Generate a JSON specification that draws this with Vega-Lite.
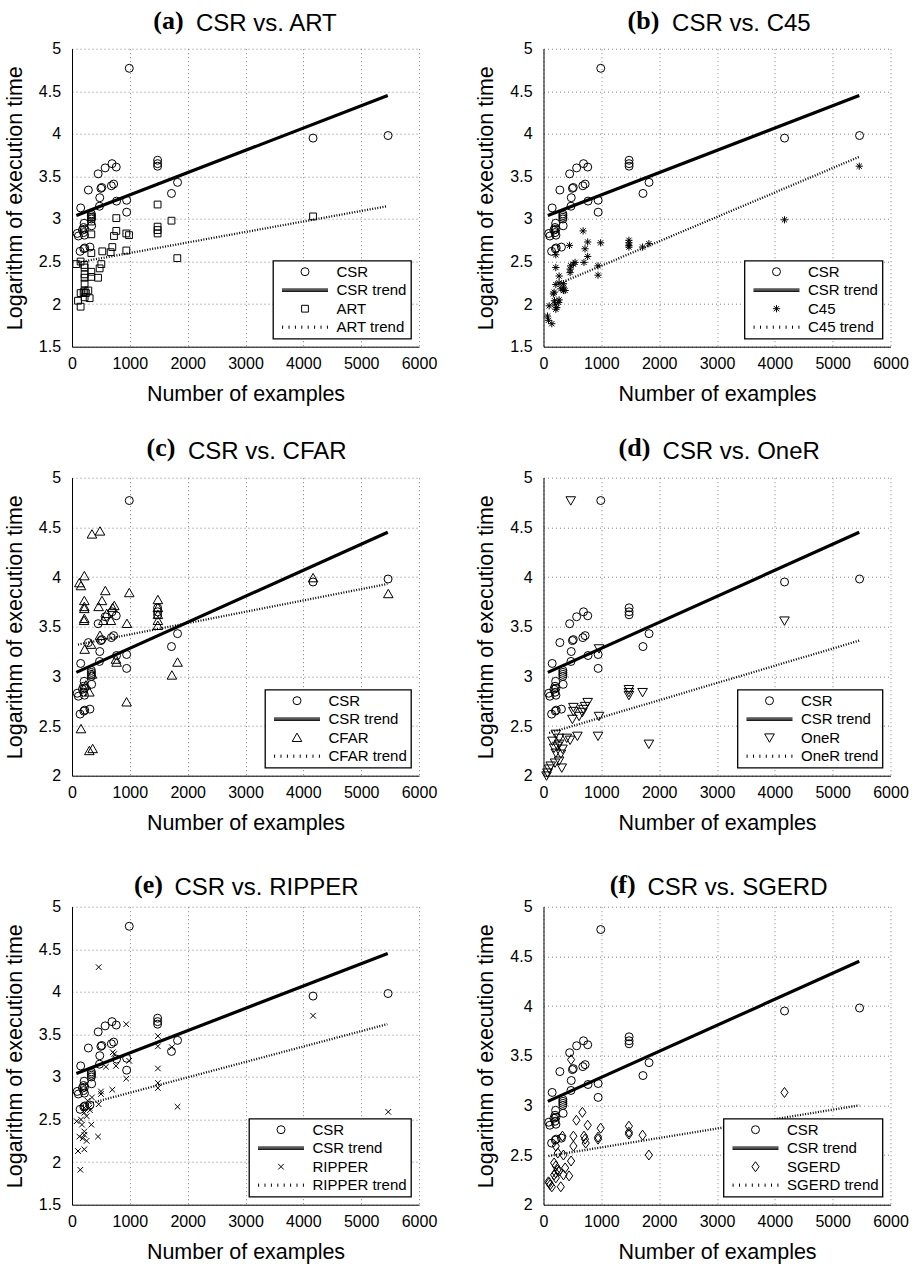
{
"$schema": "https://vega.github.io/schema/vega-lite/v6.json",
"background": "white",
"padding": {"left": 4, "top": 7.7, "right": 5, "bottom": 5},
"bounds": "flush",
"columns": 2,
"spacing": {"row": 131, "column": 124.5},
"resolve": {"scale": {"shape": "independent"}, "legend": {"shape": "independent"}},
"datasets": {
"csr": [{"n":990,"t":4.77},{"n":4168,"t":3.95},{"n":5465,"t":3.98},{"n":1480,"t":3.69},{"n":1480,"t":3.65},{"n":1480,"t":3.62},{"n":1825,"t":3.43},{"n":1720,"t":3.30},{"n":692,"t":3.65},{"n":765,"t":3.61},{"n":573,"t":3.60},{"n":452,"t":3.53},{"n":720,"t":3.41},{"n":680,"t":3.39},{"n":515,"t":3.37},{"n":500,"t":3.36},{"n":283,"t":3.34},{"n":480,"t":3.25},{"n":770,"t":3.21},{"n":945,"t":3.22},{"n":945,"t":3.08},{"n":475,"t":3.15},{"n":150,"t":3.13},{"n":335,"t":3.06},{"n":335,"t":3.04},{"n":335,"t":3.02},{"n":335,"t":3.00},{"n":340,"t":2.92},{"n":210,"t":2.95},{"n":200,"t":2.90},{"n":215,"t":2.88},{"n":200,"t":2.84},{"n":215,"t":2.81},{"n":90,"t":2.83},{"n":110,"t":2.80},{"n":140,"t":2.62},{"n":220,"t":2.66},{"n":310,"t":2.67},{"n":180,"t":2.87},{"n":205,"t":2.65}],
"art": [{"n":1480,"t":3.17},{"n":766,"t":3.01},{"n":1720,"t":2.98},{"n":4168,"t":3.03},{"n":1480,"t":2.91},{"n":1480,"t":2.87},{"n":1480,"t":2.83},{"n":766,"t":2.86},{"n":726,"t":2.80},{"n":939,"t":2.83},{"n":986,"t":2.81},{"n":334,"t":3.02},{"n":334,"t":2.97},{"n":334,"t":2.82},{"n":697,"t":2.67},{"n":524,"t":2.62},{"n":334,"t":2.60},{"n":939,"t":2.63},{"n":668,"t":2.61},{"n":1821,"t":2.54},{"n":149,"t":2.50},{"n":74,"t":2.47},{"n":507,"t":2.47},{"n":478,"t":2.42},{"n":218,"t":2.43},{"n":218,"t":2.35},{"n":334,"t":2.38},{"n":334,"t":2.32},{"n":450,"t":2.31},{"n":218,"t":2.31},{"n":218,"t":2.24},{"n":218,"t":2.16},{"n":240,"t":2.13},{"n":149,"t":2.13},{"n":305,"t":2.07},{"n":218,"t":2.08},{"n":104,"t":2.04},{"n":149,"t":1.97},{"n":282,"t":2.16},{"n":201,"t":2.14},{"n":213,"t":2.46}],
"c45": [{"n":5460,"t":3.62},{"n":4167,"t":2.99},{"n":685,"t":2.86},{"n":764,"t":2.73},{"n":988,"t":2.72},{"n":1477,"t":2.75},{"n":1477,"t":2.72},{"n":1477,"t":2.69},{"n":1477,"t":2.67},{"n":1713,"t":2.67},{"n":1822,"t":2.71},{"n":450,"t":2.69},{"n":718,"t":2.65},{"n":764,"t":2.56},{"n":700,"t":2.49},{"n":546,"t":2.49},{"n":517,"t":2.47},{"n":471,"t":2.45},{"n":460,"t":2.41},{"n":460,"t":2.37},{"n":943,"t":2.45},{"n":943,"t":2.34},{"n":213,"t":2.58},{"n":213,"t":2.43},{"n":270,"t":2.33},{"n":270,"t":2.25},{"n":213,"t":2.23},{"n":184,"t":2.14},{"n":345,"t":2.24},{"n":345,"t":2.20},{"n":345,"t":2.16},{"n":300,"t":2.18},{"n":374,"t":2.16},{"n":170,"t":2.12},{"n":190,"t":2.04},{"n":200,"t":2.00},{"n":213,"t":1.94},{"n":270,"t":2.05},{"n":264,"t":2.02},{"n":98,"t":1.98},{"n":69,"t":1.86},{"n":144,"t":1.77},{"n":86,"t":1.81},{"n":230,"t":1.96}],
"cfar": [{"n":345,"t":4.43},{"n":484,"t":4.46},{"n":213,"t":4.01},{"n":127,"t":3.94},{"n":155,"t":3.91},{"n":213,"t":3.76},{"n":213,"t":3.70},{"n":213,"t":3.68},{"n":213,"t":3.58},{"n":208,"t":3.56},{"n":576,"t":3.86},{"n":518,"t":3.76},{"n":460,"t":3.70},{"n":731,"t":3.71},{"n":702,"t":3.69},{"n":673,"t":3.56},{"n":990,"t":3.84},{"n":950,"t":3.53},{"n":1485,"t":3.77},{"n":1485,"t":3.69},{"n":1485,"t":3.62},{"n":1485,"t":3.56},{"n":1485,"t":3.51},{"n":484,"t":3.41},{"n":328,"t":3.32},{"n":219,"t":3.27},{"n":760,"t":3.17},{"n":771,"t":3.14},{"n":1825,"t":3.14},{"n":1727,"t":3.01},{"n":944,"t":2.74},{"n":155,"t":2.47},{"n":300,"t":2.25},{"n":357,"t":2.27},{"n":4168,"t":3.99},{"n":5469,"t":3.83},{"n":300,"t":2.84},{"n":240,"t":2.91},{"n":600,"t":3.63},{"n":541,"t":3.56},{"n":345,"t":3.02}],
"oner": [{"n":471,"t":4.77},{"n":4167,"t":3.56},{"n":960,"t":3.28},{"n":1477,"t":2.87},{"n":1477,"t":2.84},{"n":1477,"t":2.81},{"n":1713,"t":2.84},{"n":1822,"t":2.32},{"n":764,"t":2.74},{"n":718,"t":2.70},{"n":690,"t":2.67},{"n":672,"t":2.64},{"n":517,"t":2.69},{"n":517,"t":2.65},{"n":500,"t":2.57},{"n":615,"t":2.60},{"n":960,"t":2.60},{"n":943,"t":2.40},{"n":586,"t":2.40},{"n":460,"t":2.36},{"n":402,"t":2.38},{"n":270,"t":2.38},{"n":270,"t":2.32},{"n":328,"t":2.27},{"n":155,"t":2.35},{"n":184,"t":2.28},{"n":213,"t":2.23},{"n":213,"t":2.42},{"n":270,"t":2.15},{"n":200,"t":2.13},{"n":126,"t":2.10},{"n":98,"t":2.07},{"n":69,"t":2.03},{"n":52,"t":2.00},{"n":316,"t":2.08},{"n":240,"t":2.30},{"n":300,"t":2.22}],
"ripper": [{"n":461,"t":4.29},{"n":4168,"t":3.72},{"n":5469,"t":2.59},{"n":938,"t":3.62},{"n":1485,"t":3.48},{"n":1485,"t":3.36},{"n":1485,"t":3.10},{"n":1485,"t":2.93},{"n":1485,"t":2.87},{"n":1825,"t":2.65},{"n":1727,"t":3.35},{"n":731,"t":3.27},{"n":760,"t":3.13},{"n":587,"t":3.12},{"n":705,"t":3.29},{"n":990,"t":3.19},{"n":938,"t":2.98},{"n":697,"t":2.85},{"n":501,"t":2.83},{"n":501,"t":2.80},{"n":461,"t":2.68},{"n":345,"t":2.76},{"n":300,"t":2.64},{"n":310,"t":2.61},{"n":334,"t":2.44},{"n":450,"t":2.30},{"n":213,"t":2.64},{"n":213,"t":2.58},{"n":253,"t":2.54},{"n":155,"t":2.50},{"n":172,"t":2.44},{"n":213,"t":2.36},{"n":213,"t":2.32},{"n":127,"t":2.30},{"n":184,"t":2.28},{"n":253,"t":2.25},{"n":104,"t":2.13},{"n":213,"t":2.15},{"n":144,"t":1.91},{"n":81,"t":2.48},{"n":270,"t":2.72}],
"sgerd": [{"n":4167,"t":3.13},{"n":477,"t":3.46},{"n":672,"t":2.93},{"n":569,"t":2.85},{"n":764,"t":2.80},{"n":988,"t":2.77},{"n":1477,"t":2.79},{"n":1477,"t":2.73},{"n":1477,"t":2.71},{"n":1713,"t":2.70},{"n":1822,"t":2.50},{"n":517,"t":2.69},{"n":701,"t":2.69},{"n":718,"t":2.66},{"n":943,"t":2.68},{"n":943,"t":2.66},{"n":730,"t":2.62},{"n":517,"t":2.59},{"n":328,"t":2.69},{"n":213,"t":2.59},{"n":247,"t":2.52},{"n":345,"t":2.50},{"n":477,"t":2.44},{"n":184,"t":2.42},{"n":213,"t":2.39},{"n":241,"t":2.35},{"n":213,"t":2.32},{"n":184,"t":2.30},{"n":270,"t":2.34},{"n":374,"t":2.37},{"n":345,"t":2.30},{"n":443,"t":2.29},{"n":299,"t":2.18},{"n":98,"t":2.22},{"n":144,"t":2.18},{"n":86,"t":2.23},{"n":115,"t":2.20},{"n":213,"t":2.27}],
"t_csr": [{"n":75,"t":3.04},{"n":5460,"t":4.45}],
"t_art": [{"n":104,"t":2.49},{"n":5452,"t":3.15}],
"t_c45": [{"n":300,"t":2.25},{"n":5460,"t":3.73}],
"t_cfar": [{"n":104,"t":3.32},{"n":5452,"t":3.93}],
"t_oner": [{"n":98,"t":2.43},{"n":5460,"t":3.36}],
"t_ripper": [{"n":144,"t":2.66},{"n":5452,"t":3.62}],
"t_sgerd": [{"n":86,"t":2.49},{"n":5460,"t":3.00}]
},
"config": {
"view": {"stroke": null},
"font": "Liberation Sans",
"axis": {"labelFont": "Liberation Sans", "labelFontSize": 16, "labelColor": "black", "titleFont": "Liberation Sans", "titleFontSize": 21.5, "titleFontWeight": "normal", "titleColor": "black", "domainColor": "black", "domainWidth": 1, "ticks": false, "tickSize": 0, "gridColor": "#808080", "gridDash": [1, 3], "gridWidth": 1, "gridOpacity": 1, "labelFlush": false},
"axisX": {"labelPadding": 9, "titlePadding": 12.3},
"axisY": {"labelPadding": 11.4, "titlePadding": 12.3},
"legend": {"labelFont": "Liberation Sans", "labelFontSize": 15, "labelColor": "black", "fillColor": "white", "strokeColor": "black", "strokeWidth": 1.3, "padding": 3.5, "cornerRadius": 0, "symbolSize": 64, "symbolStrokeColor": "black", "symbolStrokeWidth": 1, "symbolFillColor": "transparent", "symbolOffset": 21, "labelOffset": 24, "rowPadding": 2.5, "offset": 8, "orient": "bottom-right"},
"title": {"font": "Liberation Serif", "fontSize": 26, "fontWeight": "bold", "color": "black", "anchor": "middle", "frame": "group", "offset": 0}
},
"concat": [
{"title": {"text": "(a)", "dx": -77, "dy": 26}, "width": 347, "height": 298,
 "encoding": {
  "x": {"field": "n", "type": "quantitative", "scale": {"domain": [0, 6000]}, "axis": {"orient": "bottom", "title": "Number of examples", "values": [0,1000,2000,3000,4000,5000,6000], "format": "d", "grid": true}},
  "y": {"field": "t", "type": "quantitative", "scale": {"domain": [1.5, 5]}, "axis": {"orient": "left", "title": "Logarithm of execution time", "values": [1.5,2,2.5,3,3.5,4,4.5,5], "format": "~g", "grid": true}}},
 "layer": [
{"data": {"name": "csr"}, "mark": {"type": "point", "filled": false, "size": 64, "strokeWidth": 1, "color": "black", "opacity": 1},
 "encoding": {"x": {"field": "n", "type": "quantitative", "scale": {"domain": [0, 6000]}, "axis": {"orient": "top", "title": "CSR vs. ART", "labels": false, "ticks": false, "domain": false, "grid": false, "titleFontSize": 24, "titleX": 193.8, "titleY": -17.7, "titleBaseline": "alphabetic", "titleAlign": "center"}},
  "shape": {"datum": "CSR", "scale": {"domain": ["CSR", "CSR trend", "ART", "ART trend"], "range": ["circle", "M-5.75,-0.3H5.75M-5.75,0H5.75M-5.75,0.3H5.75", "M-0.85,-0.85H0.85V0.85H-0.85Z", "M-5.6,-0.4V0.4M-4,-0.4V0.4M-2.4,-0.4V0.4M-0.8,-0.4V0.4M0.8,-0.4V0.4M2.4,-0.4V0.4M4,-0.4V0.4M5.6,-0.4V0.4"]}, "legend": {"title": null}}}},
{"data": {"name": "art"}, "mark": {"type": "point", "filled": false, "size": 64, "strokeWidth": 1, "color": "black", "opacity": 1},
 "encoding": {"shape": {"datum": "ART"}}},
{"data": {"name": "t_csr"}, "mark": {"type": "line", "color": "black", "strokeWidth": 3.2},
 "encoding": {"x": {"field": "n", "type": "quantitative", "scale": {"domain": [0, 6000]}, "axis": {"orient": "bottom", "title": null, "labels": false, "ticks": false, "domain": false, "grid": false}}}},
{"data": {"name": "t_art"}, "mark": {"type": "line", "color": "black", "strokeWidth": 2.3, "strokeDash": [1, 1.6]},
 "encoding": {"x": {"field": "n", "type": "quantitative", "scale": {"domain": [0, 6000]}, "axis": {"orient": "bottom", "title": null, "labels": false, "ticks": false, "domain": false, "grid": false}}}}
]},
{"title": {"text": "(b)", "dx": -73.6, "dy": 26}, "width": 347, "height": 298,
 "encoding": {
  "x": {"field": "n", "type": "quantitative", "scale": {"domain": [0, 6000]}, "axis": {"orient": "bottom", "title": "Number of examples", "values": [0,1000,2000,3000,4000,5000,6000], "format": "d", "grid": true}},
  "y": {"field": "t", "type": "quantitative", "scale": {"domain": [1.5, 5]}, "axis": {"orient": "left", "title": "Logarithm of execution time", "values": [1.5,2,2.5,3,3.5,4,4.5,5], "format": "~g", "grid": true}}},
 "layer": [
{"data": {"name": "csr"}, "mark": {"type": "point", "filled": false, "size": 64, "strokeWidth": 1, "color": "black", "opacity": 1},
 "encoding": {"x": {"field": "n", "type": "quantitative", "scale": {"domain": [0, 6000]}, "axis": {"orient": "top", "title": "CSR vs. C45", "labels": false, "ticks": false, "domain": false, "grid": false, "titleFontSize": 24, "titleX": 197.4, "titleY": -17.7, "titleBaseline": "alphabetic", "titleAlign": "center"}},
  "shape": {"datum": "CSR", "scale": {"domain": ["CSR", "CSR trend", "C45", "C45 trend"], "range": ["circle", "M-5.75,-0.3H5.75M-5.75,0H5.75M-5.75,0.3H5.75", "M-0.9,0H0.9M0,-0.9V0.9M-0.65,-0.65L0.65,0.65M-0.65,0.65L0.65,-0.65", "M-5.6,-0.4V0.4M-4,-0.4V0.4M-2.4,-0.4V0.4M-0.8,-0.4V0.4M0.8,-0.4V0.4M2.4,-0.4V0.4M4,-0.4V0.4M5.6,-0.4V0.4"]}, "legend": {"title": null}}}},
{"data": {"name": "c45"}, "mark": {"type": "point", "filled": false, "size": 64, "strokeWidth": 1, "color": "black", "opacity": 1},
 "encoding": {"shape": {"datum": "C45"}}},
{"data": {"name": "t_csr"}, "mark": {"type": "line", "color": "black", "strokeWidth": 3.2},
 "encoding": {"x": {"field": "n", "type": "quantitative", "scale": {"domain": [0, 6000]}, "axis": {"orient": "bottom", "title": null, "labels": false, "ticks": false, "domain": false, "grid": false}}}},
{"data": {"name": "t_c45"}, "mark": {"type": "line", "color": "black", "strokeWidth": 2.3, "strokeDash": [1, 1.6]},
 "encoding": {"x": {"field": "n", "type": "quantitative", "scale": {"domain": [0, 6000]}, "axis": {"orient": "bottom", "title": null, "labels": false, "ticks": false, "domain": false, "grid": false}}}}
]},
{"title": {"text": "(c)", "dx": -84.6, "dy": 26}, "width": 347, "height": 298,
 "encoding": {
  "x": {"field": "n", "type": "quantitative", "scale": {"domain": [0, 6000]}, "axis": {"orient": "bottom", "title": "Number of examples", "values": [0,1000,2000,3000,4000,5000,6000], "format": "d", "grid": true}},
  "y": {"field": "t", "type": "quantitative", "scale": {"domain": [2, 5]}, "axis": {"orient": "left", "title": "Logarithm of execution time", "values": [2,2.5,3,3.5,4,4.5,5], "format": "~g", "grid": true}}},
 "layer": [
{"data": {"name": "csr"}, "mark": {"type": "point", "filled": false, "size": 64, "strokeWidth": 1, "color": "black", "opacity": 1},
 "encoding": {"x": {"field": "n", "type": "quantitative", "scale": {"domain": [0, 6000]}, "axis": {"orient": "top", "title": "CSR vs. CFAR", "labels": false, "ticks": false, "domain": false, "grid": false, "titleFontSize": 24, "titleX": 194.8, "titleY": -19.4, "titleBaseline": "alphabetic", "titleAlign": "center"}},
  "shape": {"datum": "CSR", "scale": {"domain": ["CSR", "CSR trend", "CFAR", "CFAR trend"], "range": ["circle", "M-5.75,-0.3H5.75M-5.75,0H5.75M-5.75,0.3H5.75", "M0,-1.15L1.2,0.95L-1.2,0.95Z", "M-5.6,-0.4V0.4M-4,-0.4V0.4M-2.4,-0.4V0.4M-0.8,-0.4V0.4M0.8,-0.4V0.4M2.4,-0.4V0.4M4,-0.4V0.4M5.6,-0.4V0.4"]}, "legend": {"title": null}}}},
{"data": {"name": "cfar"}, "mark": {"type": "point", "filled": false, "size": 64, "strokeWidth": 1, "color": "black", "opacity": 1},
 "encoding": {"shape": {"datum": "CFAR"}}},
{"data": {"name": "t_csr"}, "mark": {"type": "line", "color": "black", "strokeWidth": 3.2},
 "encoding": {"x": {"field": "n", "type": "quantitative", "scale": {"domain": [0, 6000]}, "axis": {"orient": "bottom", "title": null, "labels": false, "ticks": false, "domain": false, "grid": false}}}},
{"data": {"name": "t_cfar"}, "mark": {"type": "line", "color": "black", "strokeWidth": 2.3, "strokeDash": [1, 1.6]},
 "encoding": {"x": {"field": "n", "type": "quantitative", "scale": {"domain": [0, 6000]}, "axis": {"orient": "bottom", "title": null, "labels": false, "ticks": false, "domain": false, "grid": false}}}}
]},
{"title": {"text": "(d)", "dx": -82.6, "dy": 26}, "width": 347, "height": 298,
 "encoding": {
  "x": {"field": "n", "type": "quantitative", "scale": {"domain": [0, 6000]}, "axis": {"orient": "bottom", "title": "Number of examples", "values": [0,1000,2000,3000,4000,5000,6000], "format": "d", "grid": true}},
  "y": {"field": "t", "type": "quantitative", "scale": {"domain": [2, 5]}, "axis": {"orient": "left", "title": "Logarithm of execution time", "values": [2,2.5,3,3.5,4,4.5,5], "format": "~g", "grid": true}}},
 "layer": [
{"data": {"name": "csr"}, "mark": {"type": "point", "filled": false, "size": 64, "strokeWidth": 1, "color": "black", "opacity": 1},
 "encoding": {"x": {"field": "n", "type": "quantitative", "scale": {"domain": [0, 6000]}, "axis": {"orient": "top", "title": "CSR vs. OneR", "labels": false, "ticks": false, "domain": false, "grid": false, "titleFontSize": 24, "titleX": 197.2, "titleY": -19.4, "titleBaseline": "alphabetic", "titleAlign": "center"}},
  "shape": {"datum": "CSR", "scale": {"domain": ["CSR", "CSR trend", "OneR", "OneR trend"], "range": ["circle", "M-5.75,-0.3H5.75M-5.75,0H5.75M-5.75,0.3H5.75", "M0,1.15L1.2,-0.95L-1.2,-0.95Z", "M-5.6,-0.4V0.4M-4,-0.4V0.4M-2.4,-0.4V0.4M-0.8,-0.4V0.4M0.8,-0.4V0.4M2.4,-0.4V0.4M4,-0.4V0.4M5.6,-0.4V0.4"]}, "legend": {"title": null}}}},
{"data": {"name": "oner"}, "mark": {"type": "point", "filled": false, "size": 64, "strokeWidth": 1, "color": "black", "opacity": 1},
 "encoding": {"shape": {"datum": "OneR"}}},
{"data": {"name": "t_csr"}, "mark": {"type": "line", "color": "black", "strokeWidth": 3.2},
 "encoding": {"x": {"field": "n", "type": "quantitative", "scale": {"domain": [0, 6000]}, "axis": {"orient": "bottom", "title": null, "labels": false, "ticks": false, "domain": false, "grid": false}}}},
{"data": {"name": "t_oner"}, "mark": {"type": "line", "color": "black", "strokeWidth": 2.3, "strokeDash": [1, 1.6]},
 "encoding": {"x": {"field": "n", "type": "quantitative", "scale": {"domain": [0, 6000]}, "axis": {"orient": "bottom", "title": null, "labels": false, "ticks": false, "domain": false, "grid": false}}}}
]},
{"title": {"text": "(e)", "dx": -97.1, "dy": 26}, "width": 347, "height": 298,
 "encoding": {
  "x": {"field": "n", "type": "quantitative", "scale": {"domain": [0, 6000]}, "axis": {"orient": "bottom", "title": "Number of examples", "values": [0,1000,2000,3000,4000,5000,6000], "format": "d", "grid": true}},
  "y": {"field": "t", "type": "quantitative", "scale": {"domain": [1.5, 5]}, "axis": {"orient": "left", "title": "Logarithm of execution time", "values": [1.5,2,2.5,3,3.5,4,4.5,5], "format": "~g", "grid": true}}},
 "layer": [
{"data": {"name": "csr"}, "mark": {"type": "point", "filled": false, "size": 64, "strokeWidth": 1, "color": "black", "opacity": 1},
 "encoding": {"x": {"field": "n", "type": "quantitative", "scale": {"domain": [0, 6000]}, "axis": {"orient": "top", "title": "CSR vs. RIPPER", "labels": false, "ticks": false, "domain": false, "grid": false, "titleFontSize": 24, "titleX": 194, "titleY": -12, "titleBaseline": "alphabetic", "titleAlign": "center"}},
  "shape": {"datum": "CSR", "scale": {"domain": ["CSR", "CSR trend", "RIPPER", "RIPPER trend"], "range": ["circle", "M-5.75,-0.3H5.75M-5.75,0H5.75M-5.75,0.3H5.75", "M-0.7,-0.7L0.7,0.7M-0.7,0.7L0.7,-0.7", "M-5.6,-0.4V0.4M-4,-0.4V0.4M-2.4,-0.4V0.4M-0.8,-0.4V0.4M0.8,-0.4V0.4M2.4,-0.4V0.4M4,-0.4V0.4M5.6,-0.4V0.4"]}, "legend": {"title": null}}}},
{"data": {"name": "ripper"}, "mark": {"type": "point", "filled": false, "size": 64, "strokeWidth": 1, "color": "black", "opacity": 1},
 "encoding": {"shape": {"datum": "RIPPER"}}},
{"data": {"name": "t_csr"}, "mark": {"type": "line", "color": "black", "strokeWidth": 3.2},
 "encoding": {"x": {"field": "n", "type": "quantitative", "scale": {"domain": [0, 6000]}, "axis": {"orient": "bottom", "title": null, "labels": false, "ticks": false, "domain": false, "grid": false}}}},
{"data": {"name": "t_ripper"}, "mark": {"type": "line", "color": "black", "strokeWidth": 2.3, "strokeDash": [1, 1.6]},
 "encoding": {"x": {"field": "n", "type": "quantitative", "scale": {"domain": [0, 6000]}, "axis": {"orient": "bottom", "title": null, "labels": false, "ticks": false, "domain": false, "grid": false}}}}
]},
{"title": {"text": "(f)", "dx": -94.3, "dy": 26}, "width": 347, "height": 298,
 "encoding": {
  "x": {"field": "n", "type": "quantitative", "scale": {"domain": [0, 6000]}, "axis": {"orient": "bottom", "title": "Number of examples", "values": [0,1000,2000,3000,4000,5000,6000], "format": "d", "grid": true}},
  "y": {"field": "t", "type": "quantitative", "scale": {"domain": [2, 5]}, "axis": {"orient": "left", "title": "Logarithm of execution time", "values": [2,2.5,3,3.5,4,4.5,5], "format": "~g", "grid": true}}},
 "layer": [
{"data": {"name": "csr"}, "mark": {"type": "point", "filled": false, "size": 64, "strokeWidth": 1, "color": "black", "opacity": 1},
 "encoding": {"x": {"field": "n", "type": "quantitative", "scale": {"domain": [0, 6000]}, "axis": {"orient": "top", "title": "CSR vs. SGERD", "labels": false, "ticks": false, "domain": false, "grid": false, "titleFontSize": 24, "titleX": 193.5, "titleY": -12, "titleBaseline": "alphabetic", "titleAlign": "center"}},
  "shape": {"datum": "CSR", "scale": {"domain": ["CSR", "CSR trend", "SGERD", "SGERD trend"], "range": ["circle", "M-5.75,-0.3H5.75M-5.75,0H5.75M-5.75,0.3H5.75", "M0,-1.25L0.9,0L0,1.25L-0.9,0Z", "M-5.6,-0.4V0.4M-4,-0.4V0.4M-2.4,-0.4V0.4M-0.8,-0.4V0.4M0.8,-0.4V0.4M2.4,-0.4V0.4M4,-0.4V0.4M5.6,-0.4V0.4"]}, "legend": {"title": null}}}},
{"data": {"name": "sgerd"}, "mark": {"type": "point", "filled": false, "size": 64, "strokeWidth": 1, "color": "black", "opacity": 1},
 "encoding": {"shape": {"datum": "SGERD"}}},
{"data": {"name": "t_csr"}, "mark": {"type": "line", "color": "black", "strokeWidth": 3.2},
 "encoding": {"x": {"field": "n", "type": "quantitative", "scale": {"domain": [0, 6000]}, "axis": {"orient": "bottom", "title": null, "labels": false, "ticks": false, "domain": false, "grid": false}}}},
{"data": {"name": "t_sgerd"}, "mark": {"type": "line", "color": "black", "strokeWidth": 2.3, "strokeDash": [1, 1.6]},
 "encoding": {"x": {"field": "n", "type": "quantitative", "scale": {"domain": [0, 6000]}, "axis": {"orient": "bottom", "title": null, "labels": false, "ticks": false, "domain": false, "grid": false}}}}
]}
]
}
